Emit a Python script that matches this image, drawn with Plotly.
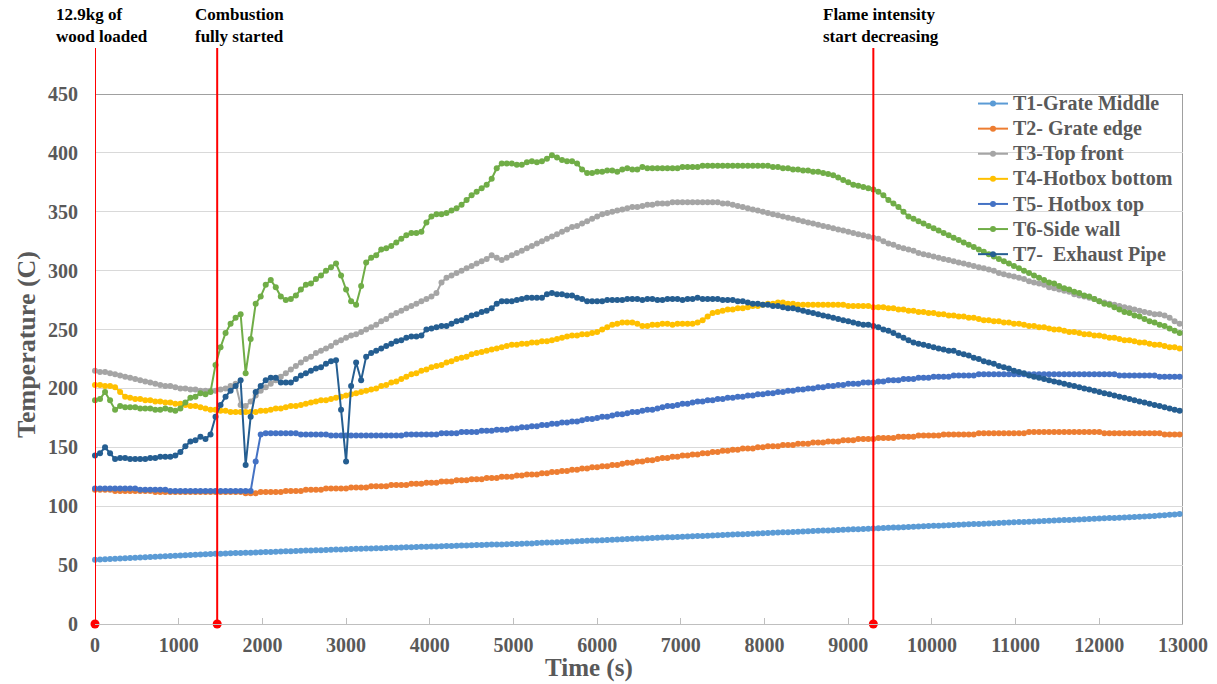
import plotly.graph_objects as go

# Sampling grid: one reading every 60 s
time_s = list(range(0, 12961, 60))

t1_grate_middle = [
    54.5, 54.7, 54.9, 55.1, 55.3, 55.6, 55.8, 56.0, 56.2, 56.4,
    56.6, 56.8, 57.0, 57.3, 57.5, 57.7, 57.9, 58.1, 58.3, 58.5,
    58.7, 59.0, 59.2, 59.4, 59.6, 59.7, 59.9, 60.0, 60.2, 60.3,
    60.5, 60.6, 60.8, 60.9, 61.1, 61.2, 61.4, 61.5, 61.7, 61.8,
    62.0, 62.1, 62.3, 62.4, 62.6, 62.7, 62.9, 63.0, 63.2, 63.3,
    63.5, 63.6, 63.8, 63.9, 64.0, 64.2, 64.3, 64.4, 64.6, 64.7,
    64.8, 65.0, 65.1, 65.2, 65.4, 65.5, 65.6, 65.8, 65.9, 66.0,
    66.2, 66.3, 66.4, 66.6, 66.7, 66.8, 67.0, 67.1, 67.2, 67.4,
    67.5, 67.6, 67.8, 67.9, 68.0, 68.2, 68.3, 68.4, 68.7, 68.9,
    69.1, 69.3, 69.5, 69.7, 69.9, 70.0, 70.2, 70.4, 70.6, 70.8,
    71.0, 71.2, 71.4, 71.5, 71.7, 71.9, 72.1, 72.3, 72.5, 72.6,
    72.8, 73.0, 73.2, 73.4, 73.6, 73.7, 73.9, 74.1, 74.3, 74.5,
    74.7, 74.8, 75.0, 75.2, 75.4, 75.6, 75.8, 75.9, 76.1, 76.3,
    76.5, 76.7, 76.9, 77.0, 77.2, 77.4, 77.6, 77.8, 78.0, 78.2,
    78.3, 78.5, 78.7, 78.9, 79.1, 79.3, 79.4, 79.6, 79.8, 80.0,
    80.2, 80.4, 80.5, 80.7, 80.9, 81.1, 81.3, 81.5, 81.7, 81.9,
    82.0, 82.2, 82.4, 82.6, 82.8, 83.0, 83.2, 83.4, 83.5, 83.7,
    83.9, 84.1, 84.3, 84.5, 84.7, 84.8, 85.0, 85.2, 85.4, 85.6,
    85.8, 86.0, 86.1, 86.3, 86.5, 86.7, 86.9, 87.1, 87.3, 87.4,
    87.6, 87.8, 88.0, 88.2, 88.4, 88.6, 88.7, 88.9, 89.1, 89.3,
    89.5, 89.7, 89.9, 90.1, 90.3, 90.5, 90.7, 90.9, 91.1, 91.3,
    91.5, 91.8, 92.1, 92.4, 92.7, 93.0, 93.3,
]

t2_grate_edge = [
    114, 114, 114, 114, 113, 113, 113, 113, 113, 113,
    113, 113, 112, 112, 112, 112, 112, 112, 112, 112,
    112, 112, 112, 112, 112, 112, 112, 112, 112, 112,
    111, 111, 111, 112, 112, 112, 112, 112, 113, 113,
    113, 113, 114, 114, 114, 114, 115, 115, 115, 115,
    115, 116, 116, 116, 116, 117, 117, 117, 117, 118,
    118, 118, 118, 119, 119, 119, 120, 120, 120, 121,
    121, 121, 122, 122, 122, 123, 123, 123, 124, 124,
    124, 125, 125, 125, 126, 126, 127, 127, 127, 128,
    128, 129, 129, 130, 130, 131, 131, 132, 132, 133,
    133, 134, 134, 135, 135, 136, 137, 137, 138, 138,
    139, 139, 140, 141, 141, 142, 142, 143, 143, 144,
    144, 145, 145, 146, 146, 147, 147, 148, 148, 149,
    149, 149, 150, 150, 151, 151, 151, 152, 152, 152,
    153, 153, 153, 154, 154, 154, 155, 155, 155, 156,
    156, 156, 157, 157, 157, 157, 158, 158, 158, 158,
    159, 159, 159, 159, 160, 160, 160, 160, 160, 161,
    161, 161, 161, 161, 161, 161, 162, 162, 162, 162,
    162, 162, 162, 162, 162, 162, 163, 163, 163, 163,
    163, 163, 163, 163, 163, 163, 163, 163, 163, 163,
    163, 162, 162, 162, 162, 162, 162, 162, 162, 162,
    162, 162, 162, 161, 161, 161, 161,
]

t3_top_front = [
    215, 214, 214, 213, 212, 211, 210, 209, 208, 207,
    206, 205, 204, 203, 202, 202, 201, 200, 200, 199,
    199, 198, 198, 198, 198, 199, 200, 202, 204, 186,
    185, 189, 194, 198, 201, 204, 207, 210, 213, 216,
    219, 222, 225, 227, 230, 232, 234, 236, 239, 241,
    243, 245, 246, 248, 250, 252, 254, 257, 259, 262,
    264, 266, 268, 270, 272, 274, 276, 278, 281, 290,
    294, 296, 298, 300, 302, 304, 306, 308, 310, 313,
    311, 309, 311, 313, 315, 317, 319, 321, 323, 325,
    327, 329, 331, 333, 335, 337, 338, 340, 342, 344,
    346, 348, 349, 350, 351, 352, 353, 354, 354, 355,
    356, 356, 357, 357, 357, 358, 358, 358, 358, 358,
    358, 358, 358, 358, 358, 357, 357, 356, 355, 354,
    353, 352, 351, 350, 349, 348, 347, 346, 345, 344,
    343, 342, 341, 340, 339, 338, 337, 336, 335, 334,
    333, 332, 331, 330, 329, 328, 327, 325, 323, 322,
    320, 319, 318, 317, 315, 314, 313, 312, 311, 310,
    309, 308, 307, 306, 305, 304, 303, 302, 301, 300,
    298, 297, 296, 295, 294, 293, 291, 290, 289, 288,
    286, 285, 284, 283, 282, 280, 279, 278, 277, 276,
    274, 273, 272, 271, 270, 269, 268, 267, 266, 265,
    264, 263, 263, 262, 260, 257, 255,
]

t4_hotbox_bottom = [
    203, 203, 202, 202, 201, 197, 193, 192, 191, 191,
    190, 190, 189, 189, 188, 188, 187, 187, 186, 185,
    185, 184, 183, 182, 182, 181, 181, 180, 180, 180,
    180, 180, 180, 181, 181, 182, 183, 183, 184, 185,
    185, 186, 187, 188, 189, 190, 190, 191, 192, 193,
    194, 195, 196, 197, 198, 199, 200, 202, 203, 205,
    206, 208, 210, 212, 213, 215, 216, 218, 219, 220,
    222, 223, 225, 226, 227, 229, 230, 231, 232, 233,
    234, 235, 236, 237, 237, 238, 238, 239, 239, 240,
    240, 241, 242, 243, 244, 245, 245, 246, 246, 247,
    248, 250, 252, 254, 255, 256, 256, 256, 255, 253,
    253, 254, 254, 255, 255, 254, 255, 255, 255, 255,
    256, 258, 261, 264, 265, 266, 267, 267, 268, 268,
    269, 270, 270, 271, 272, 272, 273, 273, 272, 272,
    271, 271, 271, 271, 271, 271, 271, 271, 271, 271,
    270, 270, 270, 270, 270, 269, 269, 269, 268, 268,
    267, 267, 266, 266, 265, 265, 264, 264, 263, 263,
    262, 262, 261, 261, 260, 260, 259, 258, 258, 257,
    257, 256, 256, 255, 255, 254, 253, 253, 252, 252,
    251, 250, 250, 249, 248, 248, 247, 246, 246, 245,
    245, 244, 243, 243, 242, 241, 241, 240, 239, 239,
    238, 237, 237, 236, 235, 235, 234,
]

t5_hotbox_top = [
    115, 115, 115, 115, 115, 115, 115, 115, 115, 114,
    114, 114, 114, 114, 114, 113, 113, 113, 113, 113,
    113, 113, 113, 113, 113, 113, 113, 113, 113, 113,
    113, 113, 138, 161, 162, 162, 162, 162, 162, 162,
    162, 161, 161, 161, 161, 161, 161, 160, 160, 160,
    160, 160, 160, 160, 160, 160, 160, 160, 160, 160,
    160, 160, 161, 161, 161, 161, 161, 161, 161, 162,
    162, 162, 162, 163, 163, 163, 163, 164, 164, 164,
    165, 165, 165, 166, 166, 167, 167, 168, 168, 169,
    169, 170, 170, 171, 171, 172, 172, 173, 174, 174,
    175, 176, 176, 177, 178, 178, 179, 180, 180, 181,
    182, 182, 183, 184, 185, 185, 186, 187, 187, 188,
    189, 189, 190, 190, 191, 191, 192, 192, 193, 193,
    194, 194, 195, 195, 196, 196, 197, 197, 198, 198,
    199, 199, 200, 200, 201, 201, 202, 202, 203, 203,
    204, 204, 204, 205, 205, 205, 206, 206, 207, 207,
    207, 208, 208, 208, 209, 209, 209, 210, 210, 210,
    210, 211, 211, 211, 211, 211, 212, 212, 212, 212,
    212, 212, 212, 212, 212, 212, 212, 212, 212, 212,
    212, 212, 212, 212, 212, 212, 212, 212, 212, 212,
    212, 212, 212, 212, 211, 211, 211, 211, 211, 211,
    211, 211, 210, 210, 210, 210, 210,
]

t6_side_wall = [
    190, 191, 197, 190, 182, 185, 184, 184, 184, 183,
    183, 183, 182, 182, 183, 182, 181, 183, 188, 192,
    193, 196, 195, 197, 220, 235, 247, 255, 260, 263,
    213, 242, 272, 278, 288, 292, 286, 278, 275, 276,
    279, 284, 288, 289, 293, 296, 300, 303, 306, 296,
    284, 274, 271, 287, 307, 311, 313, 318, 319, 321,
    324, 327, 330, 332, 332, 333, 341, 346, 348, 348,
    349, 351, 353, 356, 360, 364, 367, 370, 373, 378,
    387, 391, 391, 391, 390, 390, 392, 393, 392, 393,
    395, 398, 396, 394, 393, 393, 391, 386, 383, 383,
    384, 384, 385, 385, 384, 386, 387, 386, 386, 388,
    387, 387, 387, 387, 387, 387, 387, 388, 388, 388,
    388, 389, 389, 389, 389, 389, 389, 389, 389, 389,
    389, 389, 389, 389, 389, 388, 388, 387, 387, 386,
    386, 385, 385, 384, 384, 383, 382, 381, 379, 377,
    375, 373, 372, 371, 370, 369, 367, 364, 360, 357,
    354, 350, 346, 344, 342, 340, 338, 336, 334, 332,
    330, 328, 326, 324, 322, 320, 318, 316, 314, 312,
    310, 308, 306, 304, 302, 300, 298, 296, 294, 292,
    290, 289, 287, 285, 284, 282, 281, 279, 278, 276,
    274, 272, 271, 269, 267, 265, 264, 262, 261, 259,
    257, 256, 254, 253, 251, 249, 247,
]

t7_exhaust_pipe = [
    143, 145, 150, 145, 140, 141, 141, 140, 140, 140,
    140, 141, 141, 142, 142, 142, 143, 146, 151, 155,
    156, 159, 157, 161, 176, 186, 193, 198, 202, 207,
    135, 176, 197, 202, 207, 209, 209, 205, 205, 205,
    208, 211, 213, 215, 217, 218, 221, 223, 224, 182,
    138, 202, 222, 207, 227, 230, 232, 234, 236, 238,
    240, 241, 243, 244, 244, 245, 250, 251, 252, 253,
    253, 255, 257, 258, 260, 262, 263, 265, 266, 268,
    272, 274, 274, 274, 275, 276, 277, 277, 277, 277,
    280, 281, 280, 280, 279, 279, 277, 276, 274, 274,
    274, 274, 275, 275, 275, 275, 276, 276, 276, 275,
    276, 276, 275, 275, 276, 276, 276, 275, 276, 276,
    277, 276, 276, 276, 276, 275, 275, 275, 274, 274,
    273, 272, 272, 271, 271, 270, 270, 269, 268, 268,
    267, 266, 265, 264, 263, 262, 261, 260, 259, 258,
    257, 256, 255, 254, 254, 253, 252, 250, 249, 247,
    245, 243, 241, 239, 238, 237, 236, 235, 234, 233,
    232, 232, 230, 229, 228, 226, 225, 223, 222, 221,
    219, 218, 217, 215, 214, 213, 211, 210, 209, 208,
    207, 206, 205, 204, 203, 202, 201, 200, 199, 198,
    197, 196, 195, 194, 193, 192, 191, 190, 189, 188,
    187, 186, 185, 184, 183, 182, 181,
]

series_names = [
    "T1-Grate Middle",
    "T2- Grate edge",
    "T3-Top front",
    "T4-Hotbox bottom",
    "T5- Hotbox top",
    "T6-Side wall",
    "T7-\u00a0\u00a0Exhaust Pipe",
]
series_values = [
    t1_grate_middle, t2_grate_edge, t3_top_front, t4_hotbox_bottom,
    t5_hotbox_top, t6_side_wall, t7_exhaust_pipe,
]
series_colors = ["#5B9BD5", "#ED7D31", "#A5A5A5", "#FFC000",
                 "#4472C4", "#70AD47", "#255E91"]

# Test milestones (time in s) and their captions
event_times = [0, 1460, 9300]
event_labels = ["12.9kg of<br>wood loaded",
                "Combustion<br>fully started",
                "Flame intensity<br>start decreasing"]
event_label_px = [54, 193, 821]

W, H = 1217, 684
L, R, T, B = 95, 34, 94, 60
PW, PH = W - L - R, H - T - B


def px_x(px):
    return (px - L) / PW


def px_y(py):
    return (H - B - py) / PH


SERIF = "Liberation Serif, Times New Roman, serif"
GREY_TXT = "#595959"

fig = go.Figure()
for name, vals, col in zip(series_names, series_values, series_colors):
    fig.add_trace(go.Scatter(
        x=time_s, y=vals, mode="lines+markers",
        # legend rows keep a compact 17px pitch while the label reads at 20px
        name='<span style="font-size:20px">' + name + "</span>",
        line=dict(color=col, width=2),
        marker=dict(color=col, size=6),
        cliponaxis=False,
    ))

# milestone markers on the time axis
fig.add_trace(go.Scatter(
    x=event_times, y=[0] * len(event_times), mode="markers",
    marker=dict(color="#FF0000", size=9), showlegend=False,
    cliponaxis=False, hoverinfo="skip",
))

shapes = []
for et in event_times:
    shapes.append(dict(type="line", xref="x", yref="paper", x0=et, x1=et,
                       y0=0, y1=px_y(48), line=dict(color="#FF0000", width=2)))
# plot frame (top and right)
shapes.append(dict(type="line", xref="x", yref="y", x0=0, x1=13000, y0=450, y1=450,
                   line=dict(color="#808080", width=1.5), layer="below"))
shapes.append(dict(type="line", xref="x", yref="y", x0=13000, x1=13000, y0=0, y1=450,
                   line=dict(color="#808080", width=1.5), layer="below"))

annotations = []
for lab, lx in zip(event_labels, event_label_px):
    annotations.append(dict(
        text=lab, xref="paper", yref="paper", x=px_x(lx), y=px_y(3),
        xanchor="left", yanchor="top", align="left", showarrow=False,
        font=dict(family=SERIF, size=17, color="#000000", weight="bold"),
    ))
annotations.append(dict(
    text="Time (s)", xref="paper", yref="paper", x=px_x(589), y=px_y(683),
    xanchor="center", yanchor="bottom", showarrow=False, borderpad=0,
    font=dict(family=SERIF, size=25, color=GREY_TXT, weight="bold"),
))
annotations.append(dict(
    text="Temperature (C)", xref="paper", yref="paper", x=px_x(26), y=px_y(345),
    xanchor="center", yanchor="middle", showarrow=False, textangle=-90,
    font=dict(family=SERIF, size=26, color=GREY_TXT, weight="bold"),
))

fig.update_layout(
    width=W, height=H,
    margin=dict(l=L, r=R, t=T, b=B, autoexpand=False),
    paper_bgcolor="white", plot_bgcolor="white",
    font=dict(family=SERIF, color=GREY_TXT),
    shapes=shapes, annotations=annotations,
    showlegend=True,
    legend=dict(
        x=px_x(973), y=px_y(86), xanchor="left", yanchor="top",
        bgcolor="rgba(255,255,255,0)", borderwidth=0,
        font=dict(family=SERIF, size=17, color=GREY_TXT, weight="bold"),
        tracegroupgap=0, itemwidth=30,
    ),
    xaxis=dict(
        range=[0, 13000], tick0=0, dtick=1000, tickformat="d",
        showgrid=False, zeroline=False,
        showline=True, linecolor="#BFBFBF", linewidth=1,
        ticks="inside", ticklen=6, tickcolor="#BFBFBF",
        tickfont=dict(family=SERIF, size=20, color=GREY_TXT, weight="bold"),
        ticklabelstandoff=3,
    ),
    yaxis=dict(
        range=[0, 450], tick0=0, dtick=50, showgrid=True, gridcolor="#D9D9D9",
        gridwidth=1, zeroline=False, showline=False,
        ticks="outside", ticklen=12, tickcolor="rgba(0,0,0,0)",
        tickfont=dict(family=SERIF, size=20, color=GREY_TXT, weight="bold"),
    ),
)

fig.write_html("out.html")
